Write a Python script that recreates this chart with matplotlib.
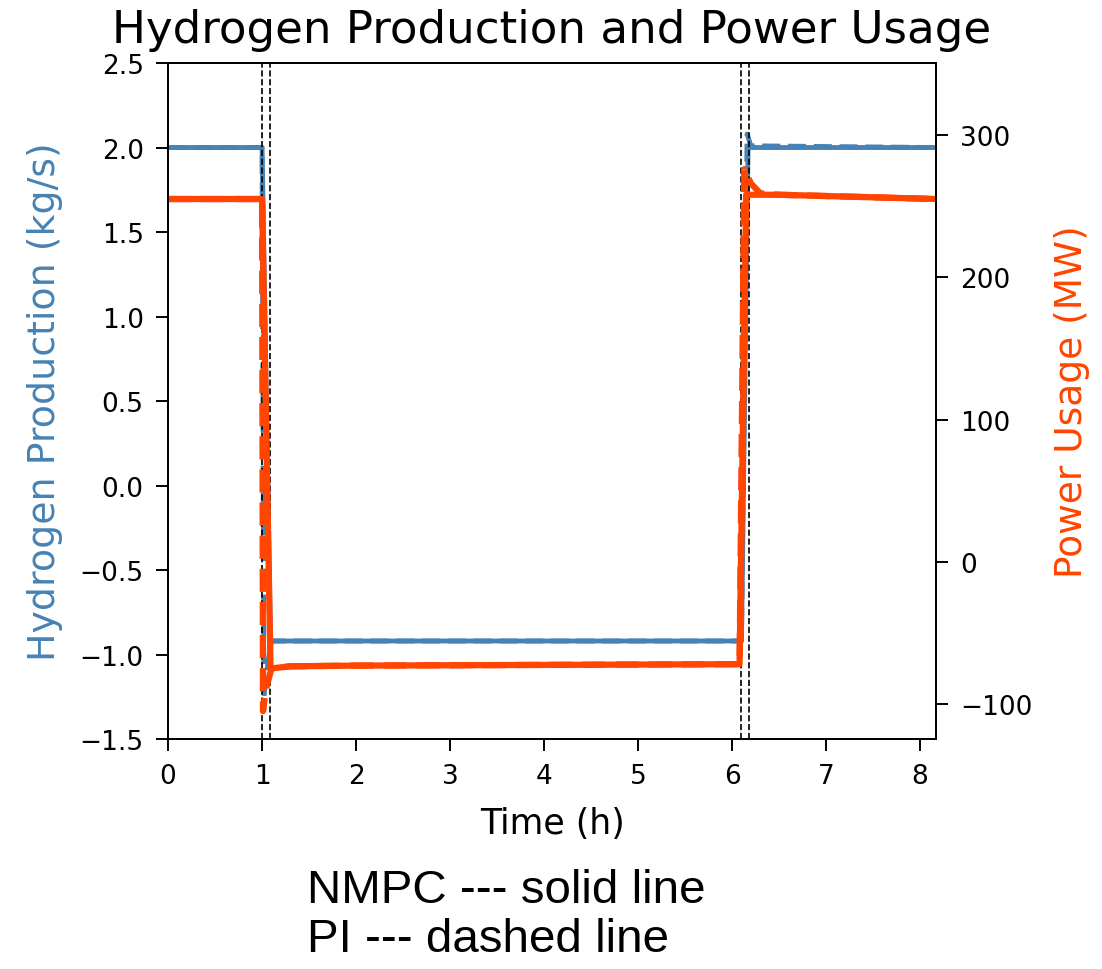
import matplotlib
matplotlib.use("Agg")
import matplotlib.pyplot as plt

# NMPC (solid)
t_h2_nmpc = [0, 1.0, 1.09, 6.10, 6.17, 8.17]
h2_nmpc = [2.0, 2.0, -0.92, -0.92, 2.0, 2.0]
t_pw_nmpc = [0, 1.0, 1.09, 1.3, 2.0, 6.08, 6.15, 6.5, 8.17]
pw_nmpc = [255, 255, -75, -73.5, -73, -72, 258, 258, 255]

# PI (dashed)
t_h2_pi = [0, 1.0, 1.02, 1.05, 1.10, 6.10, 6.16, 6.20, 8.17]
h2_pi = [2.0, 2.0, -1.25, -1.1, -0.92, -0.92, 2.08, 2.01, 2.0]
t_pw_pi = [0, 1.0, 1.01, 1.04, 1.10, 1.3, 2.0, 6.08, 6.13, 6.2, 6.3, 6.5, 8.17]
pw_pi = [255, 255, -105, -90, -75, -73.5, -73, -72, 276, 266, 259, 258, 255]

vlines = [1.0, 1.08, 6.10, 6.18]

blue = "#4682B4"
red = "#FF4500"

fig = plt.figure(figsize=(11.02, 9.70), dpi=100)
ax1 = fig.add_axes([0.1525, 0.2371, 0.6969, 0.6969])
ax2 = ax1.twinx()

ax1.plot(t_h2_nmpc, h2_nmpc, color=blue, lw=3.5)
ax1.plot(t_h2_pi, h2_pi, color=blue, lw=3.5, ls="--")
for v in vlines:
    ax1.axvline(v, color="black", ls="--", lw=1.2)
ax2.plot(t_pw_pi, pw_pi, color=red, lw=4.5, ls="--")
ax2.plot(t_pw_nmpc, pw_nmpc, color=red, lw=4.5)

ax1.set_xlim(0, 8.17)
ax1.set_ylim(-1.5, 2.5)
ax2.set_ylim(-124.6, 350.6)
ax1.set_xticks(range(0, 9))
ax1.set_yticks([-1.5, -1.0, -0.5, 0.0, 0.5, 1.0, 1.5, 2.0, 2.5])
ax2.set_yticks([-100, 0, 100, 200, 300])

for ax in (ax1, ax2):
    ax.tick_params(labelsize=19, length=8.5, width=1.4, pad=9)
    for sp in ax.spines.values():
        sp.set_linewidth(1.4)

ax1.set_xlabel("Time (h)", fontsize=25, labelpad=12)
ax1.set_ylabel("Hydrogen Production (kg/s)", fontsize=27.3, color=blue, labelpad=12)
ax2.set_ylabel("Power Usage (MW)", fontsize=27, color=red, labelpad=15)
ax1.set_title("Hydrogen Production and Power Usage", fontsize=32.5, pad=15)

fig.text(0.279, 1 - 903 / 970, "NMPC --- solid line",
         fontsize=34.2, family="Liberation Sans", ha="left", va="baseline")
fig.text(0.279, 1 - 952 / 970, "PI --- dashed line",
         fontsize=34.2, family="Liberation Sans", ha="left", va="baseline")

fig.savefig("out.png", dpi=100)
